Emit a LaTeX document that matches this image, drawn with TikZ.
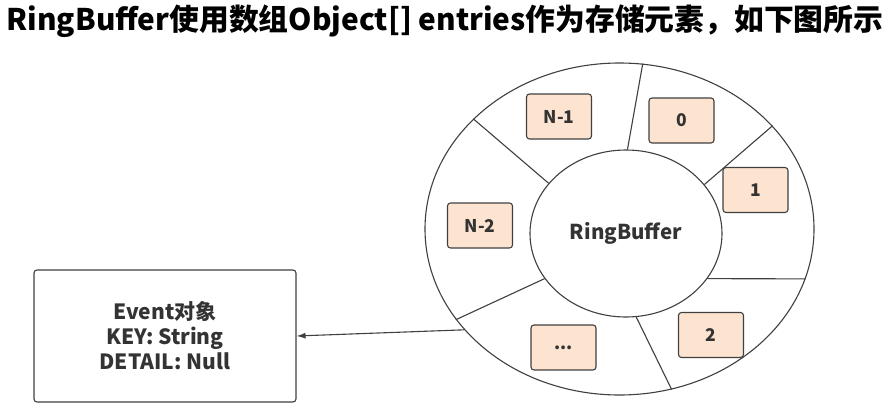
\documentclass[tikz,border=0pt]{standalone}
\usepackage{fontspec}
\setmainfont{Noto Sans CJK SC}
\usetikzlibrary{arrows.meta,shapes.geometric}
\definecolor{ink}{HTML}{404040}
\definecolor{peach}{HTML}{FCE4D0}
\definecolor{txt}{HTML}{333333}

\begin{document}
\begin{tikzpicture}[x=1pt,y=-1pt,
    slot/.style={draw=ink,line width=1.1pt,rounded corners=3pt,fill=peach,
                 minimum width=65pt,minimum height=45pt,inner sep=0pt,
                 font=\fontsize{17.5}{20}\selectfont\bfseries,text=txt},
    ring/.style={ellipse,draw=ink,line width=1.1pt,inner sep=0pt},
    divider/.style={draw=ink,line width=1.1pt},
    evbox/.style={draw=ink,line width=1.1pt,rounded corners=3pt,
                  minimum width=262pt,minimum height=132pt,align=center,
                  font=\fontsize{21}{25}\selectfont\bfseries,text=txt}]
  \fill[white] (0,0) rectangle (892,410);
  \useasboundingbox (0,0) rectangle (892,410);
  \node[font=\fontsize{29.8}{32}\selectfont\bfseries,text=black] (title) at (445,21)
    {RingBuffer使用数组Object[] entries作为存储元素，如下图所示};
  \node[ring,minimum width=389pt,minimum height=332pt] (outer) at (619.5,229) {};
  \node[ring,minimum width=192pt,minimum height=167pt,
        font=\fontsize{20.5}{22}\selectfont\bfseries,text=txt] (inner) at (626,233.5) {RingBuffer};
  \foreach \a/\b in {89.3/82.9,32.8/34.1,331.6/345.5,277.5/288.3,209.8/209.2,147.1/143.3}
    \draw[divider] (inner.\a) -- (outer.\b);
  \node[slot] (s0) at (681.5,120.5) {0};
  \node[slot] (s1) at (755.5,190) {1};
  \node[slot] (s2) at (711,335) {2};
  \node[slot] (sdots) at (563.5,347.5) {...};
  \node[slot] (sn2) at (480,225.5) {N-2};
  \node[slot] (sn1) at (559,116.5) {N-1};
  \node[evbox] (event) at (165,336) {Event对象\\KEY: String\\DETAIL: Null};
  \draw[ink,line width=1.1pt,-{Latex[length=9pt,width=6pt]}] (outer.213.2) -- (event.east);
\end{tikzpicture}
\end{document}
